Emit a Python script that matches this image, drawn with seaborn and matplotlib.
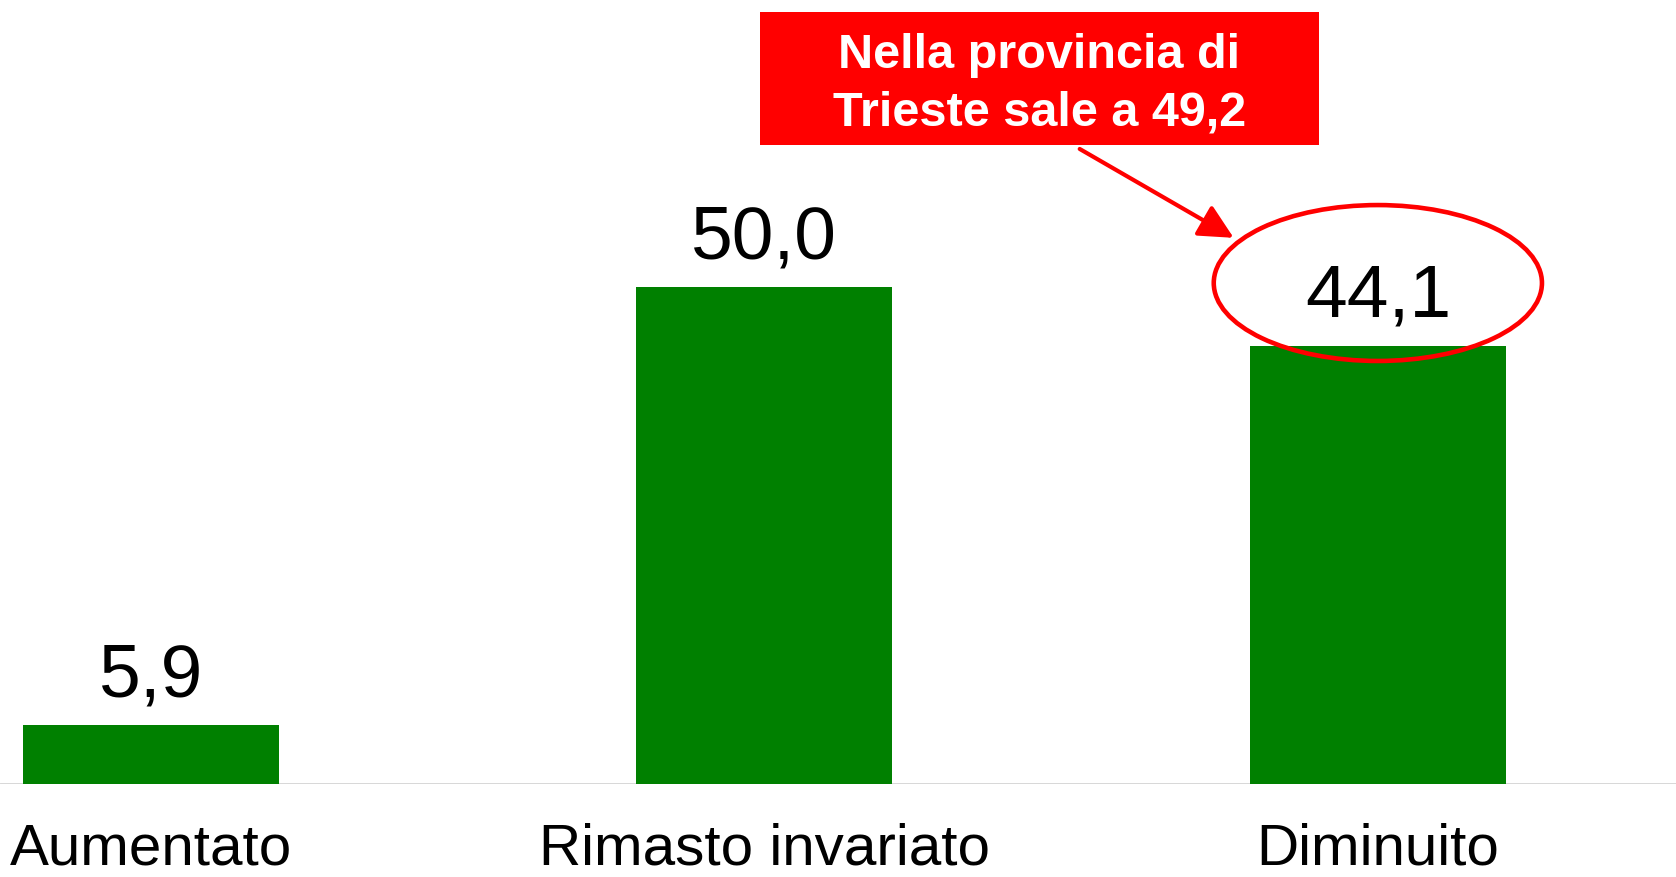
import matplotlib
matplotlib.use("Agg")
import matplotlib.pyplot as plt
from matplotlib.patches import Ellipse, Rectangle
import seaborn as sns

categories = ["Aumentato", "Rimasto invariato", "Diminuito"]
values = [5.9, 50.0, 44.1]
value_labels = ["5,9", "50,0", "44,1"]
callout_text = "Nella provincia di\nTrieste sale a 49,2"

sns.set_theme(style="white")
plt.rcParams['font.family'] = ['Liberation Sans', 'DejaVu Sans']

fig = plt.figure(figsize=(16.76, 8.77), dpi=100)
ax = fig.add_axes([0, 93 / 877, 1, 784 / 877])

sns.barplot(x=categories, y=values, color="#008000", saturation=1,
            width=0.417, edgecolor="none", ax=ax)

ax.set_xlim(-0.246, 2.486)
ax.set_ylim(0, 78.95)
for s in ax.spines.values():
    s.set_visible(False)
ax.axhline(0, color="#d4d4d4", lw=2, zorder=0)
ax.set_yticks([])
ax.set_xlabel("")
ax.set_ylabel("")
ax.tick_params(axis="x", length=0, pad=28, labelsize=42, labelcolor="black")

for i, (v, lab) in enumerate(zip(values, value_labels)):
    ax.annotate(lab, xy=(i, v), xytext=(0, 21), textcoords="offset points",
                ha="center", va="baseline", fontsize=54, color="black")

# highlight ellipse on the last bar
ax.add_patch(Ellipse((2, 50.45), 0.535, 15.7, fill=False, edgecolor="#ff0000",
                     lw=3.3, zorder=5, clip_on=False))

# callout box
ax.add_patch(Rectangle((0.993, 64.35), 0.911, 13.39, facecolor="#ff0000",
                       edgecolor="none", zorder=5, clip_on=False))
ax.text(1.448, 70.5, callout_text, ha="center", va="center", color="white",
        fontsize=35, fontweight="bold", linespacing=1.36, zorder=6)

ax.annotate("", xy=(1.765, 55.0), xytext=(1.514, 63.95),
            arrowprops=dict(arrowstyle="-|>,head_length=0.7,head_width=0.35",
                            color="#ff0000", lw=3, mutation_scale=30,
                            shrinkA=0, shrinkB=0), zorder=6)

fig.savefig("out.png", dpi=100)
